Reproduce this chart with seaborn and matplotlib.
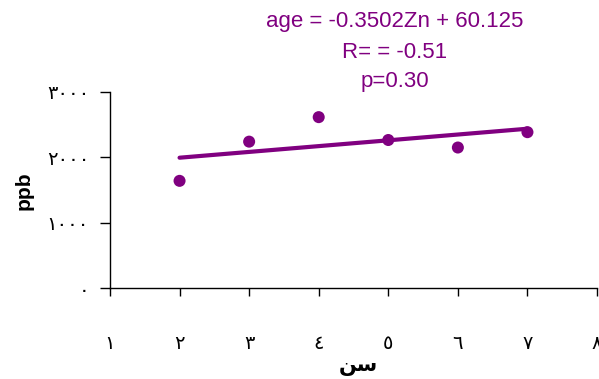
import matplotlib
matplotlib.use("Agg")
import matplotlib.pyplot as plt
import seaborn as sns
import pandas as pd

# Data
age_groups = [2, 3, 4, 5, 6, 7]
zn_ppb = [1640, 2240, 2615, 2265, 2150, 2385]
x_ticks = [1, 2, 3, 4, 5, 6, 7, 8]
x_tick_labels = ["١", "٢", "٣", "٤", "٥", "٦", "٧", "٨"]
y_ticks = [0, 1000, 2000, 3000]
y_tick_labels = ["٠", "١٠٠٠", "٢٠٠٠", "٣٠٠٠"]
x_label = "\uFEE6\uFEB3"  # "سن" in joined presentation forms, visual order
y_label = "ppb"
annotation = ["age = -0.3502Zn + 60.125", "R= = -0.51", "p=0.30"]

df = pd.DataFrame({"age": age_groups, "zn": zn_ppb})

sns.set_style("ticks")
plt.rcParams["font.family"] = ["DejaVu Sans"]
plt.rcParams["text.color"] = "black"
plt.rcParams["axes.labelcolor"] = "black"

purple = "#800080"
fig = plt.figure(figsize=(5.99, 3.79), dpi=100)
ax = fig.add_axes([0.1836, 0.2401, 0.8131, 0.5172])

sns.regplot(data=df, x="age", y="zn", ax=ax, ci=None, color=purple,
            scatter_kws=dict(s=75, edgecolor="none", alpha=1),
            line_kws=dict(lw=3))

ax.set_xlim(1, 8)
ax.set_ylim(0, 3000)
ax.set_xticks(x_ticks)
ax.set_xticklabels(x_tick_labels, fontsize=14, family="DejaVu Sans")
ax.set_yticks(y_ticks)
ax.set_yticklabels(y_tick_labels, fontsize=14, family="DejaVu Sans")
ax.tick_params(axis="x", direction="out", length=6, width=1, pad=27, colors="black")
ax.tick_params(axis="y", direction="out", length=7, width=1, pad=8, colors="black")

for side in ["top", "right"]:
    ax.spines[side].set_visible(False)
for side in ["left", "bottom"]:
    ax.spines[side].set_color("black")
    ax.spines[side].set_linewidth(1)

ax.set_xlabel(x_label, fontsize=15, fontweight="bold", family="DejaVu Sans", color="black")
ax.xaxis.set_label_coords((358 - 110) / 487, (288 - 366) / 196)
ax.xaxis.label.set_va("center")
ax.set_ylabel(y_label, fontsize=15, fontweight="bold", family="Liberation Sans", color="black")
ax.yaxis.set_label_coords((24 - 110) / 487, (288 - 191) / 196)
ax.yaxis.label.set_va("center")

for i, line in enumerate(annotation):
    fig.text(395 / 599, 1 - (22 + 30 * i) / 379, line, ha="center", va="center",
             fontsize=16, color=purple, family="Liberation Sans")

fig.savefig("out.png", dpi=100)
